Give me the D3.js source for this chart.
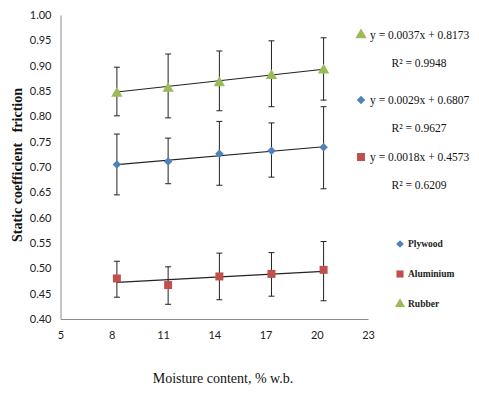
<!DOCTYPE html>
<html><head><meta charset="utf-8">
<script src="https://cdn.jsdelivr.net/npm/d3@7"></script>
<style>body{margin:0;background:#fff}svg{display:block}</style>
</head><body>
<script>
const moisture = [8.3, 11.3, 14.3, 17.35, 20.4];
const plywood = [0.705, 0.711, 0.726, 0.732, 0.739];
const plywoodHigh = [0.765, 0.757, 0.790, 0.787, 0.819];
const plywoodLow = [0.645, 0.667, 0.664, 0.680, 0.657];
const aluminium = [0.480, 0.467, 0.484, 0.489, 0.497];
const aluminiumHigh = [0.514, 0.503, 0.530, 0.531, 0.553];
const aluminiumLow = [0.443, 0.429, 0.438, 0.445, 0.436];
const rubber = [0.845, 0.855, 0.866, 0.880, 0.891];
const rubberHigh = [0.897, 0.923, 0.929, 0.949, 0.955];
const rubberLow = [0.801, 0.797, 0.811, 0.819, 0.832];
const trendSlopes = {Rubber: 0.0037, Plywood: 0.0029, Aluminium: 0.0018};
const trendIntercepts = {Rubber: 0.8173, Plywood: 0.6807, Aluminium: 0.4573};
const equationLabels = ["y = 0.0037x + 0.8173", "y = 0.0029x + 0.6807", "y = 0.0018x + 0.4573"];
const r2Labels = ["R² = 0.9948", "R² = 0.9627", "R² = 0.6209"];
const xTicks = [5, 8, 11, 14, 17, 20, 23];
const yTicks = [0.40, 0.45, 0.50, 0.55, 0.60, 0.65, 0.70, 0.75, 0.80, 0.85, 0.90, 0.95, 1.00];
const legendNames = ["Plywood", "Aluminium", "Rubber"];

const W = 479, H = 402;
const svg = d3.select("body").append("svg").attr("width", W).attr("height", H);
const x = d3.scaleLinear().domain([5, 23]).range([60.5, 368]);
const y = d3.scaleLinear().domain([0.40, 1.00]).range([319, 15]);

const colors = {Plywood: "#4F81BD", Aluminium: "#C0504D", Rubber: "#9BBB59"};
const shapes = {Plywood: d3.symbolDiamond2, Aluminium: d3.symbolSquare, Rubber: d3.symbolTriangle};
const sizes = {Plywood: 46, Aluminium: 64, Rubber: 56};

const xAxis = d3.axisBottom(x).tickValues(xTicks).tickSize(0).tickPadding(12).tickFormat(d3.format("d"));
const gx = svg.append("g").attr("transform", "translate(0,319)").call(xAxis);
const yAxis = d3.axisLeft(y).tickValues(yTicks).tickSize(0).tickPadding(9).tickFormat(d3.format(".2f"));
const gy = svg.append("g").attr("transform", "translate(60.5,0)").call(yAxis);
[gx, gy].forEach(g => {
  g.select(".domain").attr("stroke", "#8c8c8c").attr("stroke-width", 1);
  g.selectAll("text").attr("font-family", "Lato, 'Open Sans', sans-serif").attr("font-size", 11).attr("fill", "#222");
});

const series = [
  {name: "Rubber", vals: rubber, hi: rubberHigh, lo: rubberLow},
  {name: "Plywood", vals: plywood, hi: plywoodHigh, lo: plywoodLow},
  {name: "Aluminium", vals: aluminium, hi: aluminiumHigh, lo: aluminiumLow}
];

series.forEach(s => {
  const g = svg.append("g");
  const x0 = moisture[0], x1 = moisture[moisture.length - 1];
  const f = v => trendSlopes[s.name] * v + trendIntercepts[s.name];
  g.append("line").attr("x1", x(x0)).attr("y1", y(f(x0))).attr("x2", x(x1)).attr("y2", y(f(x1)))
    .attr("stroke", "#222").attr("stroke-width", 1.1);
  moisture.forEach((m, i) => {
    const cx = x(m);
    g.append("line").attr("x1", cx).attr("x2", cx).attr("y1", y(s.hi[i])).attr("y2", y(s.lo[i]))
      .attr("stroke", "#222").attr("stroke-width", 1);
    [s.hi[i], s.lo[i]].forEach(v => {
      g.append("line").attr("x1", cx - 3).attr("x2", cx + 3).attr("y1", y(v)).attr("y2", y(v))
        .attr("stroke", "#222").attr("stroke-width", 1);
    });
  });
  moisture.forEach((m, i) => {
    g.append("path").attr("d", d3.symbol().type(shapes[s.name]).size(sizes[s.name])())
      .attr("transform", `translate(${x(m)},${y(s.vals[i])})`)
      .attr("fill", colors[s.name]);
  });
});

const eqY = [35, 100, 157];
const r2Y = [63, 128, 185];
const eqNames = ["Rubber", "Plywood", "Aluminium"];
eqNames.forEach((n, i) => {
  svg.append("path").attr("d", d3.symbol().type(shapes[n]).size(sizes[n])())
    .attr("transform", `translate(361,${eqY[i]})`).attr("fill", colors[n]);
  svg.append("text").attr("x", 370).attr("y", eqY[i]).attr("dy", "0.35em")
    .attr("font-family", "'Liberation Serif', 'Times New Roman', serif").attr("font-size", 11.5)
    .attr("fill", "#111").text(equationLabels[i]);
  svg.append("text").attr("x", 419).attr("y", r2Y[i]).attr("dy", "0.35em").attr("text-anchor", "middle")
    .attr("font-family", "'Liberation Serif', 'Times New Roman', serif").attr("font-size", 11.5)
    .attr("fill", "#111").text(r2Labels[i]);
});

const legY = [244, 274, 304];
legendNames.forEach((n, i) => {
  svg.append("path").attr("d", d3.symbol().type(shapes[n]).size(sizes[n] * 0.8)())
    .attr("transform", `translate(400,${legY[i]})`).attr("fill", colors[n]);
  svg.append("text").attr("x", 408).attr("y", legY[i]).attr("dy", "0.35em")
    .attr("font-family", "'Liberation Serif', 'Times New Roman', serif").attr("font-size", 9.5)
    .attr("font-weight", "bold").attr("fill", "#222").text(n);
});

svg.append("text").attr("x", 223).attr("y", 378).attr("dy", "0.35em").attr("text-anchor", "middle")
  .attr("font-family", "'Liberation Serif', 'Times New Roman', serif").attr("font-size", 14)
  .attr("fill", "#111").text("Moisture content, % w.b.");
svg.append("text").attr("transform", "translate(17,165) rotate(-90)").attr("dy", "0.35em")
  .attr("text-anchor", "middle")
  .attr("font-family", "'Liberation Serif', 'Times New Roman', serif").attr("font-size", 14)
  .attr("font-weight", "bold").attr("fill", "#111").text("Static coefficient\u00a0\u00a0 friction");
</script>
</body></html>
